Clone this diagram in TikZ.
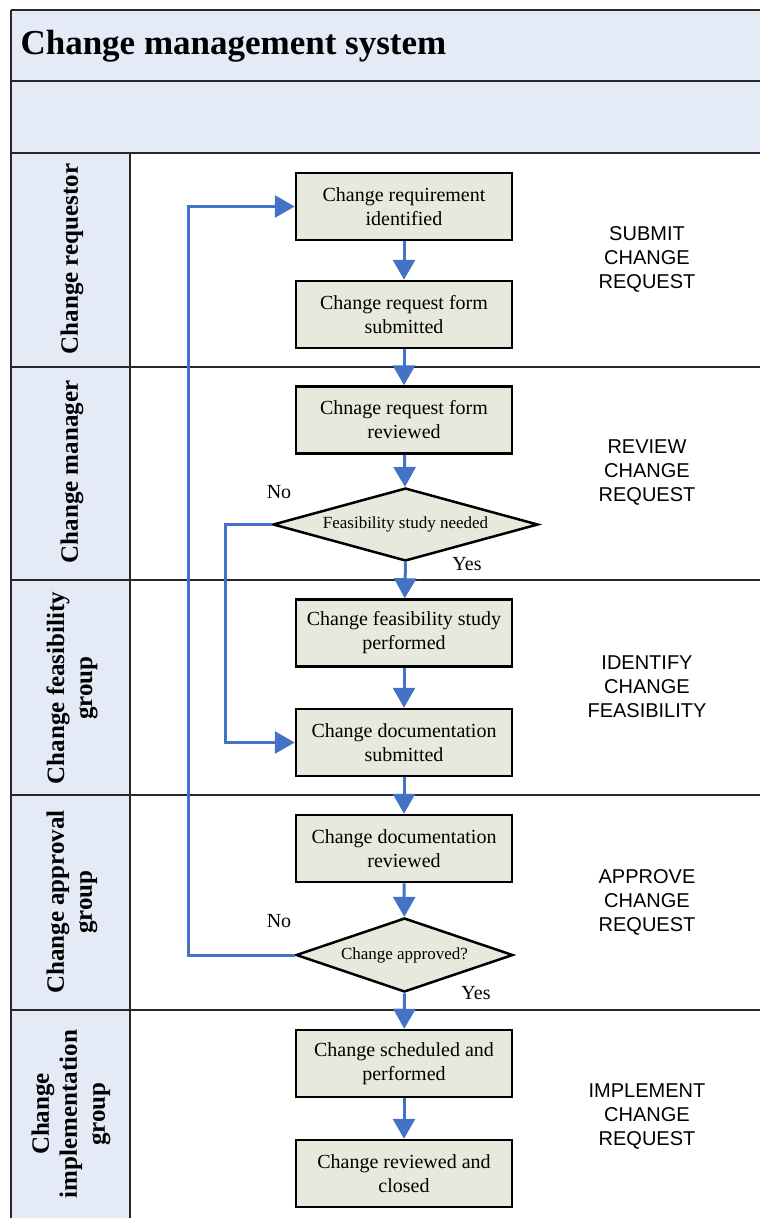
\documentclass[tikz,border=0pt]{standalone}
\usepackage{fontspec}
\setmainfont{Liberation Serif}
\setsansfont{Liberation Sans}
\usetikzlibrary{shapes.geometric,arrows.meta}

\definecolor{lanefill}{RGB}{228,235,247}
\definecolor{stepfill}{RGB}{232,233,221}
\definecolor{flowblue}{RGB}{68,114,196}
\definecolor{frameline}{RGB}{40,40,40}

\tikzset{
  stepbox/.style={draw=black, line width=2.5pt, fill=stepfill, minimum width=216, minimum height=67,
    align=center, inner sep=2pt, font=\fontsize{20}{24}\selectfont},
  decision/.style={diamond, draw=black, line width=2.5pt, fill=stepfill, aspect=3.6, inner sep=0pt,
    font=\fontsize{17}{19}\selectfont},
  flow/.style={draw=flowblue, line width=3pt, -{Triangle[length=20pt,width=22pt]}},
  lanelabel/.style={rotate=90, align=center, font=\fontsize{25}{28}\selectfont\bfseries},
  phase/.style={align=center, font=\sffamily\fontsize{20}{24}\selectfont},
  answer/.style={font=\fontsize{20}{22}\selectfont},
  laneline/.style={draw=frameline, line width=1.3pt}
}

\begin{document}
\begin{tikzpicture}[x=1pt, y=-1pt]

    \useasboundingbox (0,0) rectangle (760,1218);
    \clip (0,0) rectangle (760,1218);

    % --- Frame and lanes ---
    \fill[lanefill] (11,10) rectangle (780,153);
    \fill[lanefill] (11,153) rectangle (130,1230);
    \draw[laneline] (11,10) -- (780,10);
    \draw[laneline] (11,81) -- (780,81);
    \draw[laneline] (11,153) -- (780,153);
    \draw[laneline] (11,10) -- (11,1230);
    \draw[laneline] (130,153) -- (130,1230);
    \foreach \y in {367,580,795,1010}
        \draw[laneline] (11,\y) -- (780,\y);

    \node[anchor=west, font=\fontsize{35}{40}\selectfont\bfseries] (title) at (17,46) {Change management system};

    % --- Lane labels ---
    \node[lanelabel] (requestor) at (72,259) {Change requestor};
    \node[lanelabel] (manager) at (72,472) {Change manager};
    \node[lanelabel] (feasibility) at (72,688) {Change feasibility\\group};
    \node[lanelabel] (approval) at (72,902) {Change approval\\group};
    \node[lanelabel] (implementation) at (71,1114) {Change\\implementation\\group};

    % --- Steps ---
    \node[stepbox] (b1) at (404,206.5) {Change requirement\\identified};
    \node[stepbox] (b2) at (404,314.5) {Change request form\\submitted};
    \node[stepbox] (b3) at (404,420) {Chnage request form\\reviewed};
    \node[decision, minimum width=265, minimum height=73] (d1) at (405.5,524.5) {Feasibility study needed};
    \node[stepbox] (b4) at (404,633) {Change feasibility study\\performed};
    \node[stepbox] (b5) at (404,742.5) {Change documentation\\submitted};
    \node[stepbox] (b6) at (404,848.5) {Change documentation\\reviewed};
    \node[decision, minimum width=217, minimum height=74] (d2) at (404.5,955) {Change approved?};
    \node[stepbox] (b7) at (404,1063.5) {Change scheduled and\\performed};
    \node[stepbox] (b8) at (404,1173.5) {Change reviewed and\\closed};

    % --- Phases ---
    \node[phase] (p1) at (647,259) {SUBMIT\\CHANGE\\REQUEST};
    \node[phase] (p2) at (647,473) {REVIEW\\CHANGE\\REQUEST};
    \node[phase] (p3) at (647,687) {IDENTIFY\\CHANGE\\FEASIBILITY};
    \node[phase] (p4) at (647,902) {APPROVE\\CHANGE\\REQUEST};
    \node[phase] (p5) at (647,1116) {IMPLEMENT\\CHANGE\\REQUEST};

    % --- Flow ---
    \draw[flow] (b1) -- (b2);
    \draw[flow] (b2) -- (b3);
    \draw[flow] (b3) -- (d1);
    \draw[flow] (d1.south) -- (b4);
    \draw[flow] (b4) -- (b5);
    \draw[flow] (b5) -- (b6);
    \draw[flow] (b6) -- (d2);
    \draw[flow] (d2.south) -- (b7);
    \draw[flow] (b7) -- (b8);
    \draw[flow] (d1.west) -- ++(-46,0) |- (b5.west);
    \draw[flow] (d2.west) -- ++(-106,0) |- (b1.west);

    % --- Answers ---
    \node[answer] (no1) at (279,492) {No};
    \node[answer] (yes1) at (467,564) {Yes};
    \node[answer] (no2) at (279,921) {No};
    \node[answer] (yes2) at (476,993) {Yes};

\end{tikzpicture}
\end{document}
